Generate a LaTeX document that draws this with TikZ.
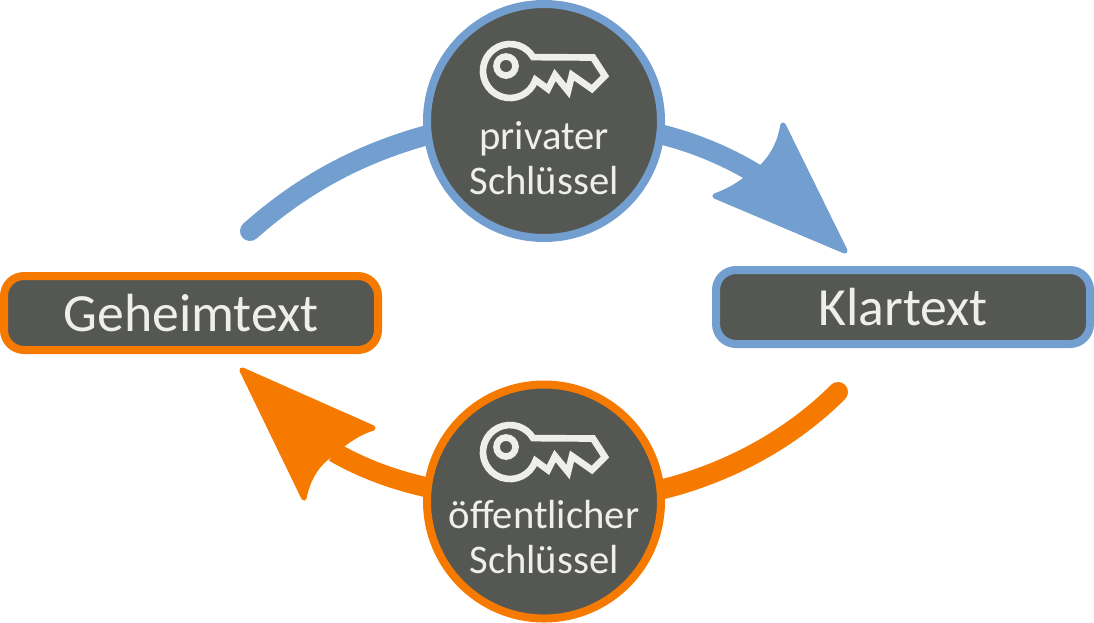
\documentclass[tikz,border=0pt]{standalone}
\usepackage{fontspec}
\setmainfont{Carlito}
\definecolor{cblue}{HTML}{729FCF}
\definecolor{corange}{HTML}{F67A00}
\definecolor{cdark}{HTML}{555753}
\definecolor{clight}{HTML}{EEEEEC}
\tikzset{
  px/.style={x=0.75pt,y=-0.75pt},
  labelbox/.style={rectangle,rounded corners=15pt,fill=cdark,line width=6pt,minimum width=280.5pt,minimum height=55.5pt,text=clight,font=\fontsize{40.3}{40}\selectfont,inner sep=0pt},
  keycircle/.style={circle,fill=cdark,line width=6pt,minimum size=175.5pt,inner sep=0pt},
  keytext/.style={text=clight,font=\fontsize{30.5}{34}\selectfont,align=center,inner sep=0pt},
  shaft/.style={line width=15pt},
  arrowhead/.style={line width=4pt,line join=round},
  keyline/.style={draw=clight,line width=5pt,line join=miter}
}
\newcommand{\keyicon}[2]{%
  \begin{scope}[shift={(#1,#2)}]
    \draw[keyline] (506,66) circle (9.5);
    \draw[keyline] (535.5,79.8) arc[start angle=19,end angle=329,radius=27] -- (593,57.5) -- (605,76) -- (592,89) -- (572,75) -- (568,91) -- (555,75) -- (548,89) -- cycle;
  \end{scope}}
\begin{document}
\begin{tikzpicture}[px]
\useasboundingbox (0,0) rectangle (1094,622);
\coordinate (blueStart) at (250,231);
\coordinate (blueIn) at (435,133);
\coordinate (blueOut) at (655,133);
\coordinate (blueEnd) at (756,174);
\coordinate (orangeStart) at (838,392);
\coordinate (orangeIn) at (655,491);
\coordinate (orangeOut) at (435,489);
\coordinate (orangeEnd) at (334,452);
\draw[cblue,shaft,line cap=round] (blueStart) .. controls (310,178) and (370,150) .. (blueIn);
\draw[cblue,shaft] (blueOut) .. controls (690,141) and (725,155) .. (blueEnd);
\fill[cblue,draw=cblue,arrowhead] (845,251) -- (783,125) .. controls (780,142) and (774,155) .. (761,168) -- (746,179) .. controls (736,187) and (726,192) .. (715,196) -- cycle;
\draw[corange,shaft,line cap=round] (orangeStart) .. controls (790,440) and (725,475) .. (orangeIn);
\draw[corange,shaft] (orangeOut) .. controls (400,482) and (365,470) .. (orangeEnd);
\fill[corange,draw=corange,arrowhead] (242,370) -- (304,498) .. controls (307,482) and (314,468) .. (326,458) -- (342,445) .. controls (352,437) and (363,431) .. (373,428) -- cycle;
\node[keycircle,draw=cblue] (priv) at (544,121) {};
\node[keycircle,draw=corange] (pub) at (544,501.5) {};
\keyicon{0}{0}
\keyicon{0}{381}
\node[keytext] (privt) at (544,158) {privater\\Schlüssel};
\node[keytext] (pubt) at (544,537) {öffentlicher\\Schlüssel};
\node[labelbox,draw=corange] (geheim) at (191,313) {Geheimtext};
\node[labelbox,draw=cblue] (klar) at (903,307) {Klartext};
\end{tikzpicture}
\end{document}
